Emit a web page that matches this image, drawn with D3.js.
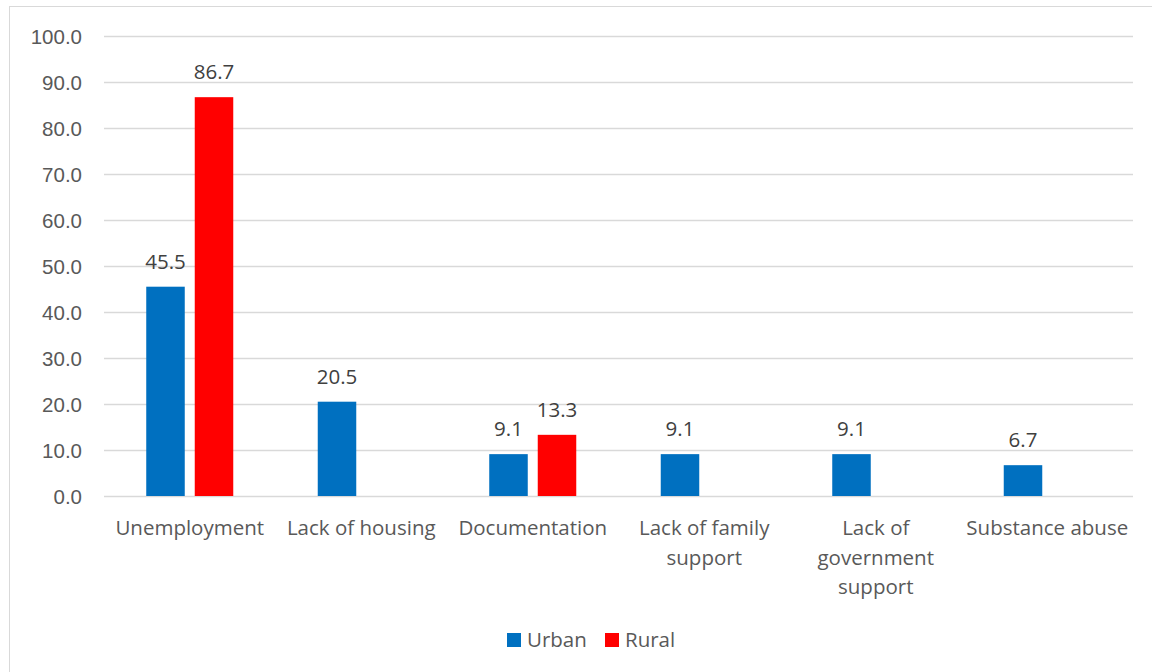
<!DOCTYPE html>
<html>
<head>
<meta charset="utf-8">
<script src="https://cdn.jsdelivr.net/npm/d3@7"></script>
<style>
  html, body { margin: 0; padding: 0; background: #fff; }
  svg { display: block; font-family: "Open Sans", "Noto Sans", sans-serif; }
</style>
</head>
<body>
<svg id="chart" width="1152" height="672"></svg>
<script>
// Reasons reported, by setting (percent)
const categories = [
  "Unemployment",
  "Lack of housing",
  "Documentation",
  "Lack of family support",
  "Lack of government support",
  "Substance abuse"
];
const categoryLines = [
  ["Unemployment"],
  ["Lack of housing"],
  ["Documentation"],
  ["Lack of family", "support"],
  ["Lack of", "government", "support"],
  ["Substance abuse"]
];
const seriesNames = ["Urban", "Rural"];
const urbanValues = [45.5, 20.5, 9.1, 9.1, 9.1, 6.7];
const ruralValues = [86.7, null, 13.3, null, null, null];
const yTicks = [0, 10, 20, 30, 40, 50, 60, 70, 80, 90, 100];
const seriesColors = ["#0070C0", "#FF0000"];

const svg = d3.select("#chart");
const W = 1152, H = 672;
const FS = "20.5px";

// outer chart frame
svg.append("rect")
  .attr("x", 9.5).attr("y", 6.5)
  .attr("width", W + 20).attr("height", H + 20)
  .attr("fill", "none").attr("stroke", "#d9d9d9").attr("stroke-width", 1);

const plot = { left: 104, right: 1133, top: 36, bottom: 496 };

const y = d3.scaleLinear().domain([0, 100]).range([plot.bottom, plot.top]);
const x0 = d3.scaleBand().domain(categories).range([plot.left, plot.right]);
const x1 = d3.scaleBand().domain(seriesNames).range([0, x0.bandwidth()])
  .paddingInner(0.206).paddingOuter(0.871);

// gridlines
svg.append("g")
  .selectAll("line")
  .data(yTicks)
  .join("line")
  .attr("x1", plot.left).attr("x2", plot.right)
  .attr("y1", d => Math.round(y(d)) + 0.5)
  .attr("y2", d => Math.round(y(d)) + 0.5)
  .attr("stroke", "#d9d9d9").attr("stroke-width", 1.3);

// y axis labels
const yAxis = d3.axisLeft(y).tickValues(yTicks).tickFormat(d3.format(".1f")).tickSize(0).tickPadding(0);
const yg = svg.append("g").attr("transform", `translate(${plot.left - 22},0)`).call(yAxis);
yg.select(".domain").remove();
yg.selectAll("text")
  .attr("fill", "#595959")
  .style("font-size", FS)
  .attr("dy", "0.35em");

// bars
const rows = categories.map((c, i) => ({
  cat: c,
  values: [urbanValues[i], ruralValues[i]]
}));

const groups = svg.append("g").selectAll("g")
  .data(rows)
  .join("g")
  .attr("transform", d => `translate(${x0(d.cat)},0)`);

const cells = groups.selectAll("g.cell")
  .data(d => seriesNames.map((s, j) => ({ s, j, v: d.values[j] })).filter(e => e.v !== null))
  .join("g").attr("class", "cell");

cells.append("rect")
  .attr("x", d => x1(d.s))
  .attr("y", d => y(d.v))
  .attr("width", x1.bandwidth())
  .attr("height", d => y(0) - y(d.v))
  .attr("fill", d => seriesColors[d.j]);

cells.append("text")
  .attr("x", d => x1(d.s) + x1.bandwidth() / 2)
  .attr("y", d => y(d.v) - 18)
  .attr("text-anchor", "middle")
  .attr("fill", "#404040")
  .style("font-size", FS)
  .text(d => d3.format(".1f")(d.v));

// category labels
const catLabels = svg.append("g").selectAll("text")
  .data(categories)
  .join("text")
  .attr("x", d => x0(d) + x0.bandwidth() / 2)
  .attr("y", 535)
  .attr("text-anchor", "middle")
  .attr("fill", "#595959")
  .style("font-size", FS);
catLabels.each(function(d, i) {
  d3.select(this).selectAll("tspan")
    .data(categoryLines[i])
    .join("tspan")
    .attr("x", x0(d) + x0.bandwidth() / 2)
    .attr("dy", (t, k) => k === 0 ? 0 : 29.5)
    .text(t => t);
});

// legend
const legendItems = [
  { name: "Urban", x: 507 },
  { name: "Rural", x: 605 }
];
const lg = svg.append("g").selectAll("g")
  .data(legendItems)
  .join("g")
  .attr("transform", d => `translate(${d.x},633)`);
lg.append("rect")
  .attr("width", 14).attr("height", 14)
  .attr("fill", (d, i) => seriesColors[i]);
lg.append("text")
  .attr("x", 20).attr("y", 7)
  .attr("dy", "0.35em")
  .attr("fill", "#595959")
  .style("font-size", FS)
  .text(d => d.name);
</script>
</body>
</html>
